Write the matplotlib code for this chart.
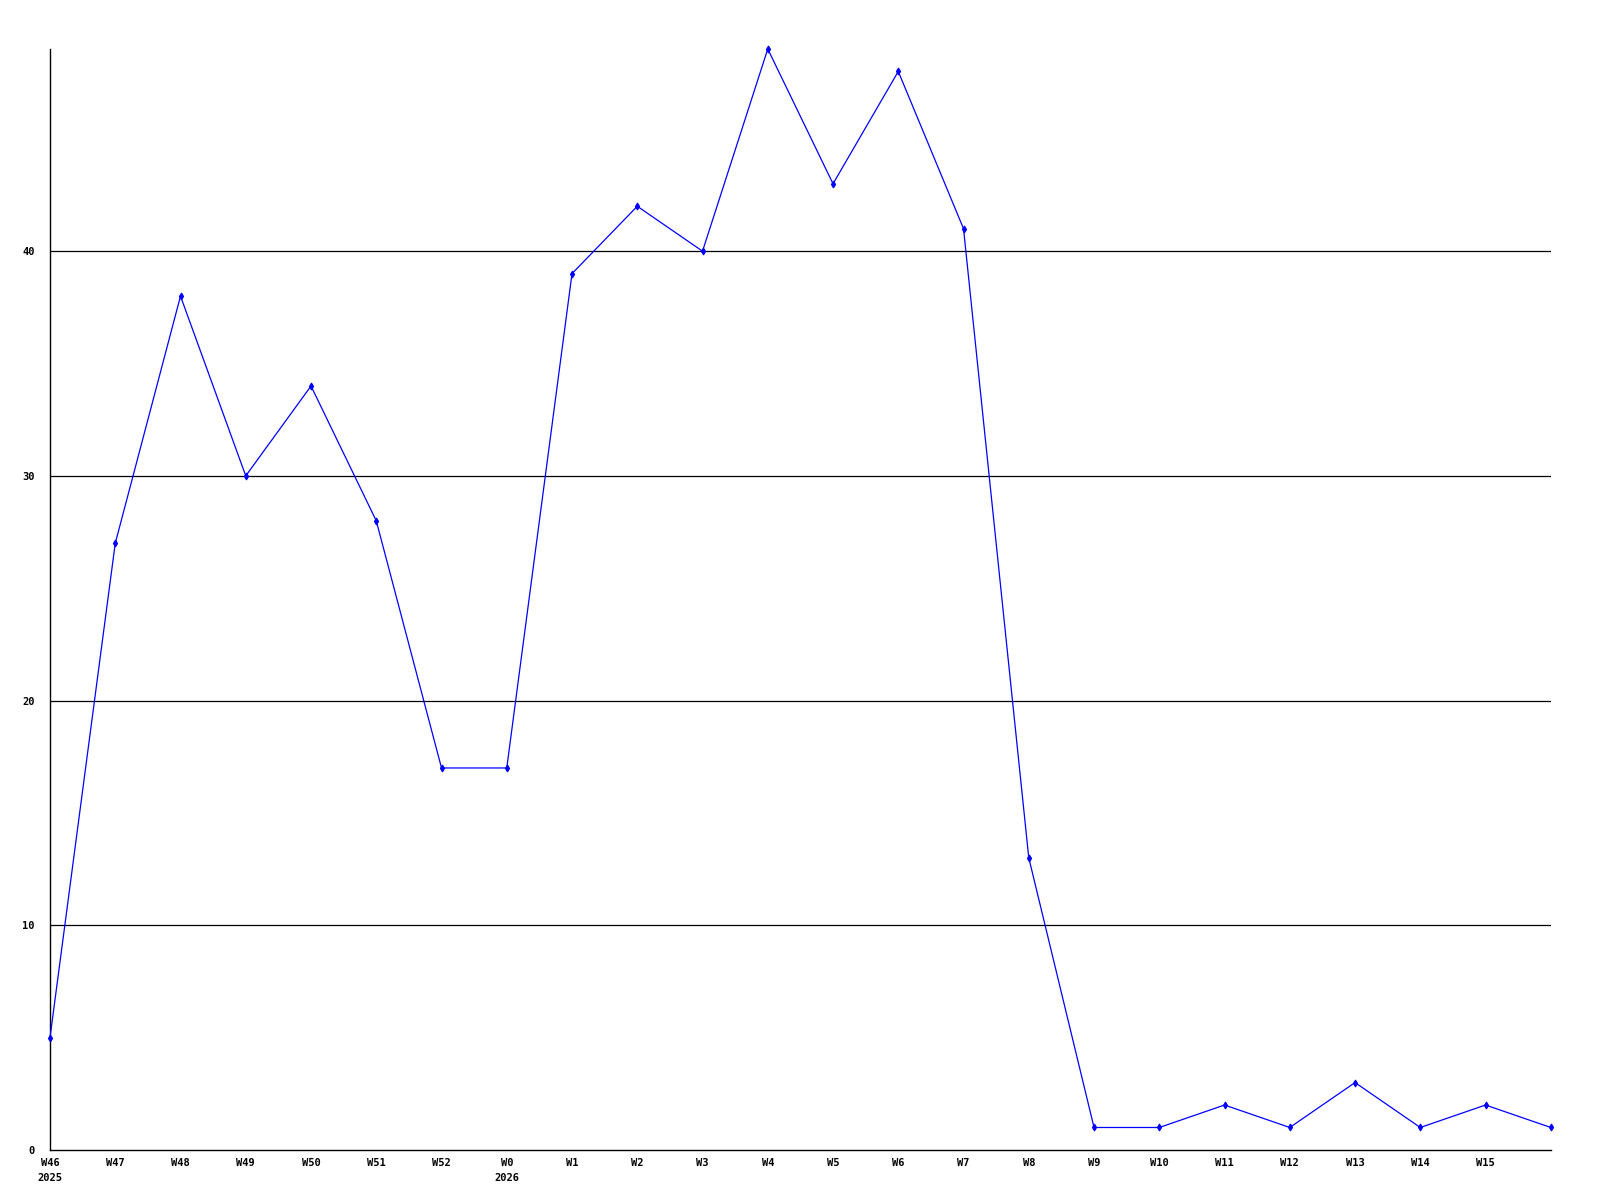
import matplotlib
matplotlib.use("Agg")
from matplotlib import pyplot as plt

# weekly counts, W46 2025 .. W16 2026
weeks = ["W46", "W47", "W48", "W49", "W50", "W51", "W52", "W0", "W1", "W2",
         "W3", "W4", "W5", "W6", "W7", "W8", "W9", "W10", "W11", "W12",
         "W13", "W14", "W15", "W16"]
years = {"W46": "2025", "W0": "2026"}
counts = [5, 27, 38, 30, 34, 28, 17, 17, 39, 42,
          40, 49, 43, 48, 41, 13, 1, 1, 2, 1,
          3, 1, 2, 1]
yticks = [0, 10, 20, 30, 40]

fig = plt.figure(figsize=(16, 12), dpi=100)
ax = fig.add_axes([0.03125, 0.0417, 0.938, 0.9175])

x = list(range(len(counts)))
ax.plot(x, counts, color="#0000ff", linewidth=0.9, marker="d", markersize=3.5,
        markeredgewidth=0.8, clip_on=False, zorder=3)

for v in yticks[1:]:
    ax.axhline(v, color="black", linewidth=0.9, zorder=1)

ax.set_xlim(0, len(counts) - 1)
ax.set_ylim(0, max(counts))

font = dict(family="DejaVu Sans Mono", weight="bold", size=7.5)
ax.set_yticks(yticks)
ax.set_yticklabels([str(v) for v in yticks], fontdict=font)
ax.tick_params(axis="y", length=0, pad=11)

tick_x = x[:-1]
ax.set_xticks(tick_x)
labels = [w + ("\n" + years[w] if w in years else "") for w in weeks[:-1]]
ax.set_xticklabels(labels, fontdict=font, linespacing=1.6, va="top")
ax.tick_params(axis="x", length=0, pad=6)

ax.spines["top"].set_visible(False)
ax.spines["right"].set_visible(False)
ax.spines["left"].set_linewidth(1.0)
ax.spines["bottom"].set_linewidth(1.0)

fig.savefig("out.png", dpi=100)
